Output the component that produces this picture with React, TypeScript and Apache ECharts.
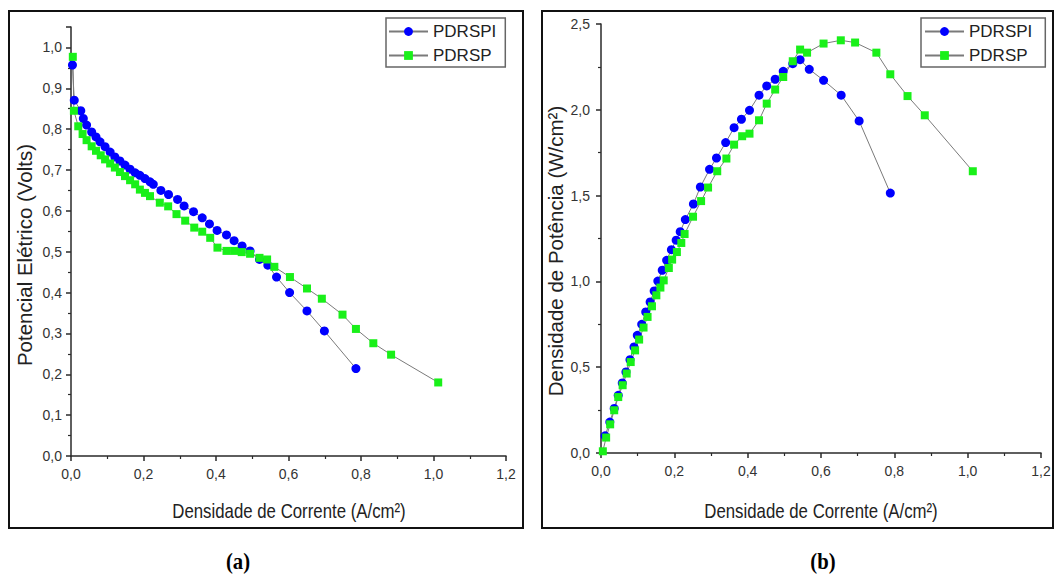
import React, { useEffect, useRef } from "react";
import * as echarts from "echarts";

// ---- Data: (a) Potencial Elétrico vs Densidade de Corrente ----
const aBlueX = [0.004, 0.009, 0.027, 0.034, 0.043, 0.057, 0.069, 0.080, 0.094, 0.108, 0.121, 0.135, 0.149, 0.163, 0.177, 0.190, 0.204, 0.218, 0.227, 0.248, 0.269, 0.294, 0.312, 0.338, 0.362, 0.382, 0.403, 0.429, 0.450, 0.472, 0.494, 0.520, 0.543, 0.567, 0.603, 0.651, 0.699, 0.786];
const aBlueY = [0.957, 0.871, 0.845, 0.826, 0.810, 0.793, 0.781, 0.769, 0.757, 0.744, 0.732, 0.722, 0.712, 0.702, 0.693, 0.687, 0.679, 0.671, 0.665, 0.650, 0.640, 0.628, 0.612, 0.598, 0.583, 0.568, 0.552, 0.541, 0.527, 0.514, 0.502, 0.481, 0.467, 0.438, 0.400, 0.355, 0.306, 0.214];
const aGreenX = [0.005, 0.008, 0.020, 0.032, 0.043, 0.057, 0.069, 0.082, 0.094, 0.108, 0.121, 0.135, 0.149, 0.163, 0.177, 0.190, 0.204, 0.218, 0.245, 0.268, 0.291, 0.315, 0.340, 0.362, 0.384, 0.404, 0.429, 0.450, 0.471, 0.494, 0.520, 0.541, 0.561, 0.604, 0.651, 0.692, 0.749, 0.786, 0.834, 0.883, 1.013];
const aGreenY = [0.977, 0.845, 0.807, 0.788, 0.773, 0.758, 0.747, 0.736, 0.726, 0.716, 0.706, 0.695, 0.685, 0.675, 0.665, 0.652, 0.644, 0.636, 0.620, 0.611, 0.592, 0.576, 0.559, 0.549, 0.534, 0.510, 0.502, 0.502, 0.499, 0.495, 0.485, 0.481, 0.463, 0.438, 0.410, 0.385, 0.346, 0.311, 0.276, 0.248, 0.180];

// ---- Data: (b) Densidade de Potência vs Densidade de Corrente ----
const bBlueX = [0.011, 0.024, 0.036, 0.047, 0.058, 0.068, 0.079, 0.090, 0.099, 0.111, 0.122, 0.134, 0.145, 0.155, 0.167, 0.179, 0.192, 0.205, 0.216, 0.230, 0.252, 0.271, 0.296, 0.315, 0.340, 0.363, 0.383, 0.405, 0.431, 0.452, 0.475, 0.497, 0.523, 0.543, 0.568, 0.607, 0.655, 0.704, 0.789];
const bBlueY = [0.10, 0.18, 0.26, 0.336, 0.408, 0.472, 0.544, 0.618, 0.686, 0.750, 0.822, 0.880, 0.944, 1.002, 1.065, 1.123, 1.185, 1.240, 1.290, 1.360, 1.451, 1.550, 1.653, 1.719, 1.809, 1.896, 1.945, 1.997, 2.085, 2.139, 2.178, 2.224, 2.269, 2.292, 2.236, 2.172, 2.085, 1.935, 1.515];
const bGreenX = [0.005, 0.014, 0.025, 0.036, 0.047, 0.059, 0.070, 0.081, 0.093, 0.104, 0.116, 0.127, 0.139, 0.151, 0.162, 0.171, 0.185, 0.194, 0.207, 0.219, 0.228, 0.251, 0.273, 0.292, 0.317, 0.342, 0.363, 0.385, 0.405, 0.431, 0.452, 0.475, 0.497, 0.523, 0.543, 0.562, 0.607, 0.654, 0.693, 0.751, 0.789, 0.836, 0.883, 1.014];
const bGreenY = [0.01, 0.09, 0.167, 0.249, 0.326, 0.395, 0.463, 0.530, 0.598, 0.661, 0.731, 0.793, 0.855, 0.919, 0.964, 1.006, 1.078, 1.127, 1.171, 1.224, 1.276, 1.377, 1.468, 1.547, 1.642, 1.716, 1.797, 1.846, 1.861, 1.939, 2.036, 2.118, 2.191, 2.283, 2.351, 2.333, 2.386, 2.405, 2.392, 2.333, 2.207, 2.080, 1.968, 1.642];

const seriesNames = ["PDRSPI", "PDRSP"];
const xTitle = "Densidade de Corrente (A/cm²)";
const yTitleA = "Potencial Elétrico (Volts)";
const yTitleB = "Densidade de Potência (W/cm²)";
const panelLabels = ["(a)", "(b)"];

const SANS = "'Liberation Sans', Arial, sans-serif";
const SERIF = "'Liberation Serif', 'Times New Roman', serif";
const BLUE = "#0000ff";
const GREEN = "#19f019";
const LINE = "#7a7a7a";
const AX = "#2a2a2a";

const zip = (xs: number[], ys: number[]) => xs.map((x, i) => [x, ys[i]]);

const fmt = (v: number) => {
  const r = Math.round(v * 10) / 10;
  if (Math.abs(r - v) > 1e-6) return "";
  return r.toFixed(1).replace(".", ",");
};

const axisCommon = {
  axisLine: { show: true, onZero: false, lineStyle: { color: AX, width: 1.5 } },
  axisTick: { show: true, inside: false, length: 5, lineStyle: { color: AX, width: 1.5 } },
  minorTick: { show: true, splitNumber: 2, length: 3, lineStyle: { color: AX, width: 1.2 } },
  splitLine: { show: false },
  minorSplitLine: { show: false },
};

const labelStyle = (margin: number) => ({ color: "#333", fontFamily: SANS, fontSize: 14, margin, formatter: fmt });

const legendCommon = {
  orient: "vertical",
  data: seriesNames,
  itemWidth: 39,
  itemHeight: 11,
  itemGap: 7,
  borderColor: "#666",
  borderWidth: 1.5,
  selectedMode: false,
  textStyle: { fontFamily: SANS, fontSize: 17, color: "#222" },
};

const textEl = (text: string, x: number, y: number, size: number, opts: any = {}) => ({
  type: "text",
  x,
  y,
  silent: true,
  ...opts,
  style: {
    text,
    fontFamily: opts.family || SANS,
    fontWeight: opts.weight || "normal",
    fontSize: size,
    fill: opts.fill || "#222",
    align: "center",
    verticalAlign: "middle",
    textAlign: "center",
    textVerticalAlign: "middle",
  },
});

export default function App() {
  const ref = useRef<HTMLDivElement>(null);
  useEffect(() => {
    if (!ref.current) return;
    const chart = echarts.init(ref.current, undefined, { renderer: "svg" });
    const mkSeries = (name: string, xs: number[], ys: number[], idx: number, sym: string, color: string, size: number) => ({
      name,
      type: "line",
      xAxisIndex: idx,
      yAxisIndex: idx,
      data: zip(xs, ys),
      symbol: sym,
      symbolSize: size,
      showSymbol: true,
      itemStyle: { color },
      lineStyle: { color: LINE, width: 1 },
      emphasis: { disabled: true },
    });
    chart.setOption({
      animation: false,
      backgroundColor: "#ffffff",
      grid: [
        { left: 71, top: 27, width: 435, height: 429 },
        { left: 601, top: 24, width: 440, height: 429 },
      ],
      xAxis: [
        { type: "value", gridIndex: 0, min: 0, max: 1.2, interval: 0.2, ...axisCommon, axisLabel: labelStyle(11) },
        { type: "value", gridIndex: 1, min: 0, max: 1.2, interval: 0.2, ...axisCommon, axisLabel: labelStyle(11) },
      ],
      yAxis: [
        { type: "value", gridIndex: 0, min: 0, max: 1.05, interval: 0.1, ...axisCommon, axisLabel: labelStyle(9) },
        { type: "value", gridIndex: 1, min: 0, max: 2.5, interval: 0.5, ...axisCommon, axisLabel: labelStyle(11) },
      ],
      legend: [
        { ...legendCommon, left: 386, top: 18, padding: [5, 9, 3, 2] },
        { ...legendCommon, left: 921, top: 18, padding: [5, 13, 3, 3] },
      ],
      graphic: [
        { type: "rect", shape: { x: 9, y: 11, width: 514, height: 517 }, style: { fill: "none", stroke: "#111", lineWidth: 2 }, silent: true },
        { type: "rect", shape: { x: 542, y: 11, width: 511, height: 517 }, style: { fill: "none", stroke: "#111", lineWidth: 2 }, silent: true },
        textEl(yTitleA, 24, 255, 20.5, { rotation: Math.PI / 2 }),
        textEl(yTitleB, 555, 251, 20.5, { rotation: Math.PI / 2 }),
        textEl(xTitle, 289, 511, 20.5, { scaleX: 0.82 }),
        textEl(xTitle, 821, 511, 20.5, { scaleX: 0.82 }),
        textEl(panelLabels[0], 238, 562, 23, { scaleX: 0.9, family: SERIF, weight: "bold", fill: "#000" }),
        textEl(panelLabels[1], 823, 562, 23, { scaleX: 0.9, family: SERIF, weight: "bold", fill: "#000" }),
      ],
      series: [
        mkSeries(seriesNames[0], aBlueX, aBlueY, 0, "circle", BLUE, 9),
        mkSeries(seriesNames[1], aGreenX, aGreenY, 0, "rect", GREEN, 8),
        mkSeries(seriesNames[0], bBlueX, bBlueY, 1, "circle", BLUE, 9),
        mkSeries(seriesNames[1], bGreenX, bGreenY, 1, "rect", GREEN, 8),
      ],
    });
    return () => chart.dispose();
  }, []);
  return <div ref={ref} style={{ position: "fixed", left: 0, top: 0, width: 1055, height: 577, background: "#fff" }} />;
}
